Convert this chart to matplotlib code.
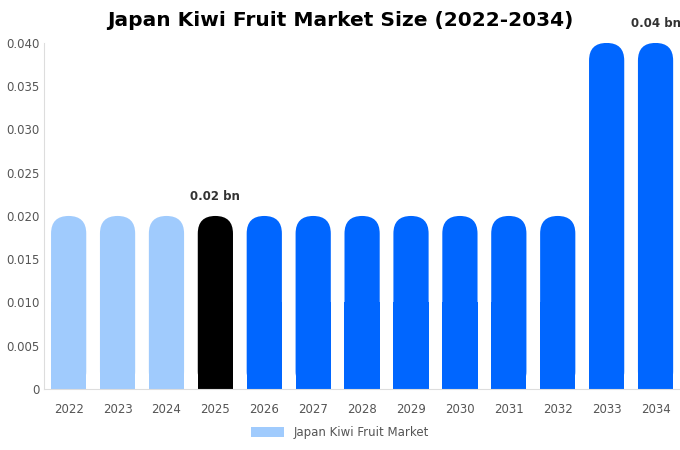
import matplotlib.pyplot as plt
from matplotlib.patches import FancyBboxPatch, Rectangle, Patch

years = [str(y) for y in range(2022, 2035)]
values = [0.02] * 11 + [0.04, 0.04]
colors = ["#a0cbfd"] * 3 + ["#000000"] + ["#0066ff"] * 9
labels = {3: "0.02 bn", 12: "0.04 bn"}

fig = plt.figure(figsize=(6.8, 4.5), dpi=100)
ax = fig.add_axes([0.065, 0.1356, 0.935, 0.769])
ax.set_xlim(-0.5, 12.5)
ax.set_ylim(0, 0.04)

w = 0.72
px_x = 1 / 48.9
px_y = 0.04 / 346
r = w / 2
aspect = px_y / px_x
for i, (v, c) in enumerate(zip(values, colors)):
    ax.add_patch(FancyBboxPatch((i - w / 2, 0), w, v,
                                boxstyle=f"round,pad=0,rounding_size={r}",
                                mutation_aspect=aspect, fc=c, ec="none"))
    ax.add_patch(Rectangle((i - w / 2, 0), w, v / 2, fc=c, ec="none"))
    if i in labels:
        ax.text(i, v + 0.0015, labels[i], ha="center", va="bottom",
                fontsize=8.5, fontweight="bold", color="#333333")

ax.set_xticks(range(len(years)))
ax.set_xticklabels(years)
ax.set_yticks([0, 0.005, 0.01, 0.015, 0.02, 0.025, 0.03, 0.035, 0.04])
ax.set_yticklabels(["0", "0.005", "0.010", "0.015", "0.020", "0.025", "0.030", "0.035", "0.040"])
ax.tick_params(length=0, labelsize=8.5, colors="#555555")
ax.tick_params(axis="x", pad=10)
for s in ["top", "right"]:
    ax.spines[s].set_visible(False)
for s in ["left", "bottom"]:
    ax.spines[s].set_color("#dddddd")

fig.suptitle("Japan Kiwi Fruit Market Size (2022-2034)", x=0.5, y=0.975,
             fontsize=14.5, fontweight="bold")
fig.legend(handles=[Patch(fc="#a0cbfd", label="Japan Kiwi Fruit Market")],
           loc="center", bbox_to_anchor=(0.5, 0.038), frameon=False,
           fontsize=8.5, handlelength=2.8, handleheight=0.9, labelcolor="#555555")
fig.savefig("out.png")
